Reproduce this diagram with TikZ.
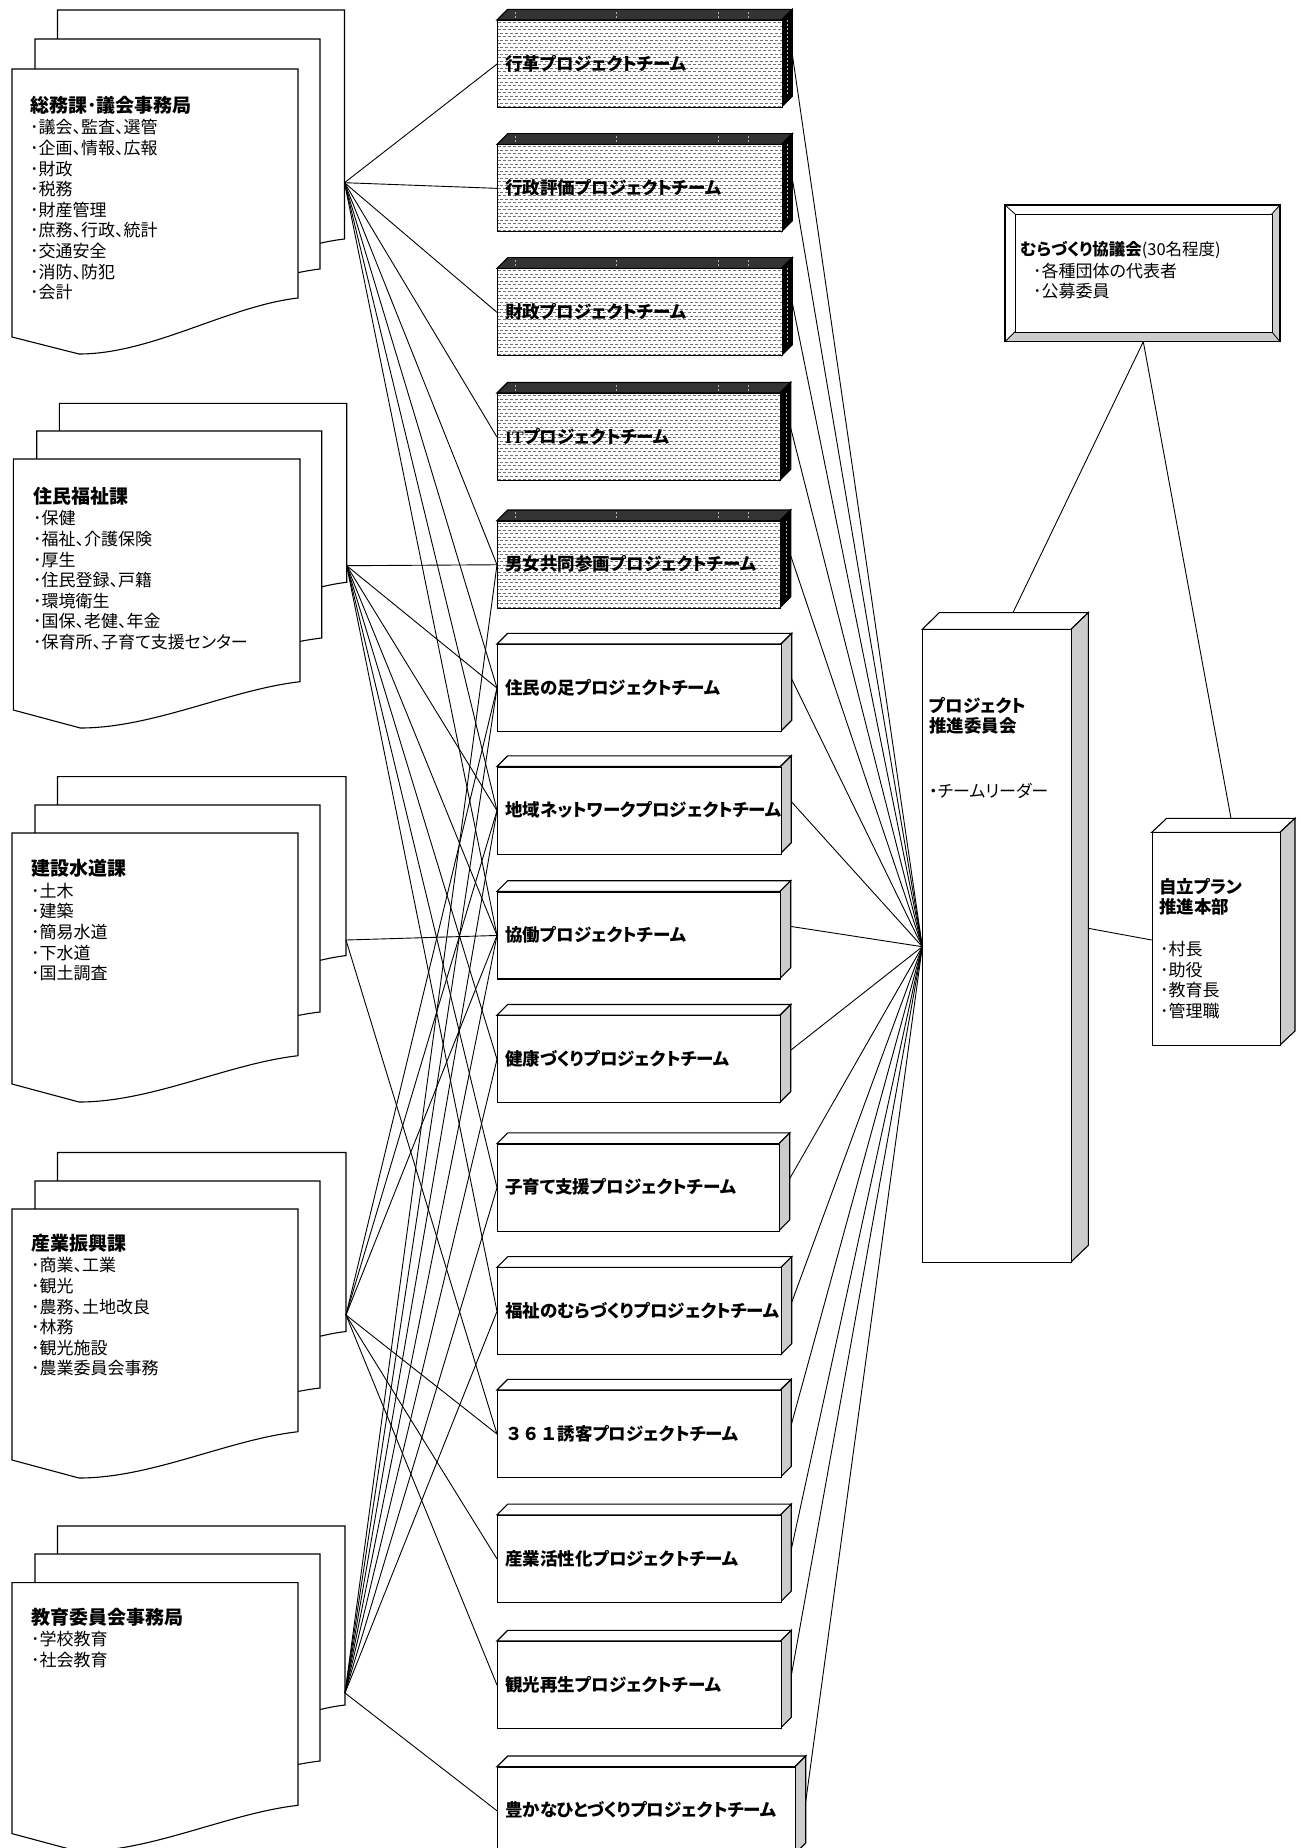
\documentclass[tikz,border=0pt]{standalone}
\usepackage{fontspec}
\setmainfont{Noto Sans CJK JP}[RawFeature=+palt]
\newfontfamily\fwfont{Noto Sans CJK JP}
\newfontfamily\itserif{Liberation Serif}
\usetikzlibrary{calc}
\definecolor{sidegray}{HTML}{CCCCCC}
\definecolor{topdark}{HTML}{333333}
\tikzset{
  outline/.style={line width=1.1pt, draw=black, line join=miter},
  conn/.style={line width=0.9pt, draw=black},
  frontface/.style={draw=black, line width=1.1pt, fill=white, inner sep=0pt},
  patface/.style={draw=black, line width=1.1pt, fill=white, inner sep=0pt,
    path picture={\foreach \k in {0,...,24}{\pgfmathsetmacro\ph{mod(\k,2)*2.5}
      \draw[black!55, line width=1pt, dash pattern=on 3pt off 2pt, dash phase=\ph pt]
        ($(path picture bounding box.north west)+(0,2+\k*3.5)$) -- ++(300,0);}}},
  projlabel/.style={anchor=west, inner sep=0pt, font=\fontsize{17.5}{20}\selectfont\bfseries},
  depttext/.style={anchor=north west, inner sep=0pt, align=left, font=\fontsize{17}{20.6}\selectfont},
  tick/.style={gray!60, line width=0.6pt, dash pattern=on 2pt off 2pt},
}
\newcommand{\docpage}[6]{%
  \draw[outline, fill=white] (#1,#2) -- (#1+#3,#2) -- (#1+#3,#2+#4)
    .. controls (#1+#3-70,#2+#4+8) and (#1+140,#2+#6) .. (#1+67,#2+#6) -- (#1,#2+#5) -- cycle;}
\newcommand{\pbox}[4]{%
  \draw[outline, fill=white] (497,#2) -- (507.7,#2-10.7) -- (#3+10.7,#2-10.7) -- (#3,#2) -- cycle;
  \draw[outline, fill=sidegray] (#3,#2) -- (#3+10.7,#2-10.7) -- (#3+10.7,#2+76.3) -- (#3,#2+87) -- cycle;
  \node[frontface, anchor=north west, minimum width=#3-497, minimum height=87] (#1) at (497,#2) {};
  \node[projlabel] (#1t) at (505,#2+43.5) {#4};
  \coordinate (#1r) at (#3+10.7,#2+35);}
\newcommand{\patbox}[4]{%
  \draw[outline, fill=topdark] (497,#2) -- (507.7,#2-10.7) -- (#3+10.7,#2-10.7) -- (#3,#2) -- cycle;
  \foreach \tx in {515,616,718,748} \draw[tick] (\tx,#2-8.5) -- (\tx,#2-1.5);
  \draw[outline, fill=black] (#3,#2) -- (#3+10.7,#2-10.7) -- (#3+10.7,#2+76.3) -- (#3,#2+87) -- cycle;
  \draw[tick] (#3+6,#2) -- (#3+6,#2+76);
  \node[patface, anchor=north west, minimum width=#3-497, minimum height=87] (#1) at (497,#2) {};
  \node[projlabel] (#1t) at (505,#2+43.5) {#4};
  \coordinate (#1r) at (#3+10.7,#2+35);}
\begin{document}
\begin{tikzpicture}[x=1pt,y=-1pt]
\useasboundingbox (0,0) rectangle (1301,1848);
\fill[white] (0,0) rectangle (1301,1848);

% ---------------- departments ----------------
% dept 1
\docpage{57.5}{10}{287}{229}{268}{285}
\docpage{35}{39}{285}{230}{268}{285}
\docpage{12}{69}{286}{229}{268}{285}
\node[depttext] (d1) at (30,96) {{\fontsize{19}{20.6}\selectfont\bfseries 総務課･議会事務局}\\[0.8pt]･議会、監査、選管\\･企画、情報、広報\\･財政\\･税務\\･財産管理\\･庶務、行政、統計\\･交通安全\\･消防、防犯\\･会計};
\coordinate (s1) at (344.5,182.7);
% dept 2
\docpage{59.3}{403.3}{287.4}{179}{220}{240}
\docpage{36.7}{431}{285}{207}{240}{255}
\docpage{13.3}{459}{286.7}{222.7}{251}{269}
\node[depttext] (d2) at (33,487) {{\fontsize{19}{20.6}\selectfont\bfseries 住民福祉課}\\[0.8pt]･保健\\･福祉、介護保険\\･厚生\\･住民登録、戸籍\\･環境衛生\\･国保、老健、年金\\･保育所、子育て支援センター};
\coordinate (s2) at (346.7,565.7);
% dept 3
\docpage{57.5}{776.6}{288.5}{179}{220}{240}
\docpage{35}{805}{285}{207}{240}{255}
\docpage{12}{833}{286}{222.7}{251}{269}
\node[depttext] (d3) at (31,859.5) {{\fontsize{19}{20.6}\selectfont\bfseries 建設水道課}\\[0.8pt]･土木\\･建築\\･簡易水道\\･下水道\\･国土調査};
\coordinate (s3) at (346,940);
% dept 4
\docpage{57.5}{1152.5}{288.5}{179}{220}{240}
\docpage{35}{1181}{285}{207}{240}{255}
\docpage{12}{1209}{286}{222.7}{251}{269}
\node[depttext] (d4) at (31,1234) {{\fontsize{19}{20.6}\selectfont\bfseries 産業振興課}\\[0.8pt]･商業、工業\\･観光\\･農務、土地改良\\･林務\\･観光施設\\･農業委員会事務};
\coordinate (s4) at (346,1315);
% dept 5
\docpage{57.5}{1526}{287.5}{179}{220}{240}
\docpage{35}{1554}{285}{207}{240}{255}
\docpage{12}{1582.6}{286}{222.7}{251}{269}
\node[depttext] (d5) at (31,1608) {{\fontsize{19}{20.6}\selectfont\bfseries 教育委員会事務局}\\[0.8pt]･学校教育\\･社会教育};
\coordinate (s5) at (345,1693);

% ---------------- project teams ----------------
\patbox{p1}{20}{781.7}{行革プロジェクトチーム}
\patbox{p2}{144.3}{781.7}{行政評価プロジェクトチーム}
\patbox{p3}{268.3}{781.7}{財政プロジェクトチーム}
\patbox{p4}{393}{780}{{\itserif\bfseries IT}プロジェクトチーム}
\patbox{p5}{520.7}{780}{男女共同参画プロジェクトチーム}
\pbox{p6}{644}{781}{住民の足プロジェクトチーム}
\pbox{p7}{766.5}{780.5}{地域ネットワークプロジェクトチーム}
\pbox{p8}{891.4}{780}{協働プロジェクトチーム}
\pbox{p9}{1015.2}{780}{健康づくりプロジェクトチーム}
\pbox{p10}{1143.6}{779}{子育て支援プロジェクトチーム}
\pbox{p11}{1267.3}{781}{福祉のむらづくりプロジェクトチーム}
\pbox{p12}{1390}{780.5}{{\fwfont\bfseries ３６１}誘客プロジェクトチーム}
\pbox{p13}{1514.8}{780.5}{産業活性化プロジェクトチーム}
\pbox{p14}{1641}{780.5}{観光再生プロジェクトチーム}
\pbox{p15}{1766.7}{795}{豊かなひとづくりプロジェクトチーム}

% ---------------- committee ----------------
\draw[outline, fill=white] (922.3,629.3) -- (939.3,612.6) -- (1088.3,612.6) -- (1071,629.3) -- cycle;
\draw[outline, fill=sidegray] (1071,629.3) -- (1088.3,612.6) -- (1088.3,1245.3) -- (1071,1262) -- cycle;
\node[frontface, anchor=north west, minimum width=148.7, minimum height=632.7] (com) at (922.3,629.3) {};
\node[anchor=north west, inner sep=0pt, align=left, font=\fontsize{17.5}{20}\selectfont\bfseries] (comt) at (929,697.5) {プロジェクト\\推進委員会};
\node[anchor=west, inner sep=0pt, font=\fontsize{17}{20}\selectfont] (coml) at (929,790.7) {・チームリーダー};
\coordinate (comin) at (922.3,946.7);
\coordinate (comout) at (1088.3,928.3);
\coordinate (comtop) at (1013,612.6);

% ---------------- jiritsu ----------------
\draw[outline, fill=white] (1151.7,832.3) -- (1166.7,818.3) -- (1295,818.3) -- (1280,832.3) -- cycle;
\draw[outline, fill=sidegray] (1280,832.3) -- (1295,818.3) -- (1295,1031) -- (1280,1045) -- cycle;
\node[frontface, anchor=north west, minimum width=128.3, minimum height=212.7] (hq) at (1151.7,832.3) {};
\node[anchor=north west, inner sep=0pt, align=left, font=\fontsize{17.5}{20}\selectfont\bfseries] (hqt) at (1159,878.5) {自立プラン\\推進本部};
\node[depttext] (hql) at (1160,941) {･村長\\･助役\\･教育長\\･管理職};
\coordinate (hqin) at (1151.7,940);
\coordinate (hqtop) at (1231,818.3);

% ---------------- murazukuri ----------------
\fill[sidegray] (1005,205) rectangle (1280,341.7);
\fill[white] (1005,205) -- (1280,205) -- (1271.7,214) -- (1015,214) -- (1015,331.7) -- (1005,341.7) -- cycle;
\draw[line width=0.8pt] (1005,205) -- (1015,214) (1280,205) -- (1271.7,214) (1005,341.7) -- (1015,331.7) (1280,341.7) -- (1271.7,331.7);
\draw[outline] (1005,205) rectangle (1280,341.7);
\node[draw=black, line width=1.1pt, fill=white, anchor=north west, minimum width=256.7, minimum height=117.7, inner sep=0pt] (mura) at (1015,214) {};
\node[anchor=west, inner sep=0pt, font=\fontsize{16.5}{20}\selectfont] (murat) at (1020,250) {{\bfseries むらづくり協議会}(30名程度)};
\node[depttext] (mural) at (1033,262.5) {･各種団体の代表者\\･公募委員};
\coordinate (murabot) at (1143.3,341.7);

% ---------------- connectors ----------------
\foreach \p in {p1,p2,p3,p4,p5,p6,p7,p8} \draw[conn] (s1) -- (\p.west);
\foreach \p in {p5,p6,p7,p8,p9,p10,p11} \draw[conn] (s2) -- (\p.west);
\foreach \p in {p8,p12} \draw[conn] (s3) -- (\p.west);
\foreach \p in {p6,p7,p8,p12,p13,p14} \draw[conn] (s4) -- (\p.west);
\foreach \p in {p5,p6,p7,p8,p9,p10,p11,p15} \draw[conn] (s5) -- (\p.west);
\foreach \p in {p1,p2,p3,p4,p5,p6,p7,p8,p9,p10,p11,p12,p13,p14,p15} \draw[conn] (\p r) -- (comin);
\draw[conn] (comout) -- (hqin);
\draw[conn] (murabot) -- (comtop);
\draw[conn] (murabot) -- (hqtop);
\end{tikzpicture}
\end{document}
